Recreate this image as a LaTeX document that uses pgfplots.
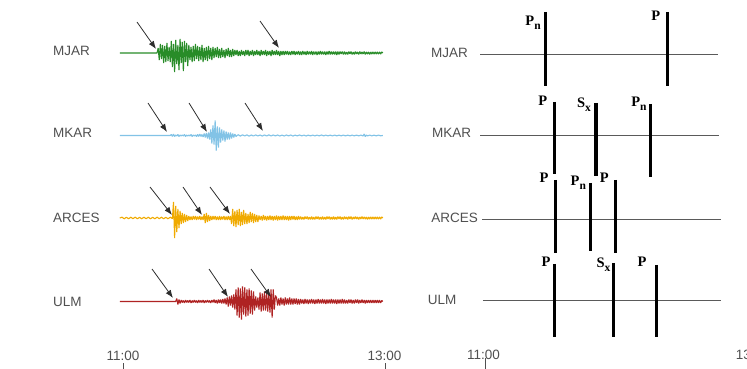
\documentclass[border=0pt]{standalone}
\usepackage{pgfplots}
\pgfplotsset{compat=1.18}
\usepackage{fontspec}
\setmainfont{Liberation Sans}
\newfontfamily\phasefont{Liberation Serif}
\usetikzlibrary{arrows.meta}
\definecolor{cMJAR}{RGB}{40,140,40}
\definecolor{cMKAR}{RGB}{130,195,230}
\definecolor{cARCES}{RGB}{240,170,0}
\definecolor{cULM}{RGB}{175,35,35}
\definecolor{labgray}{RGB}{80,80,80}
\definecolor{arrowc}{RGB}{45,45,45}
\definecolor{linegray}{RGB}{90,90,90}
\newcommand{\stfont}{\fontsize{13.5}{16}\selectfont}
\newcommand{\ph}[2]{{\phasefont\bfseries\fontsize{14.5}{16}\selectfont #1\raisebox{-0.3em}{\fontsize{11.5}{12}\selectfont #2}}}
\begin{document}
\begin{tikzpicture}[x=1pt,y=1pt]
\path[use as bounding box] (0,0) rectangle (747,369);
% ---------------- left panel: waveforms ----------------
\begin{axis}[at={(117.62pt,0pt)}, anchor=south west, scale only axis,
  width=269.58pt, height=369pt, xmin=-2, xmax=121, ymin=0, ymax=369,
  hide axis, clip=false]
% MJAR (baseline 316)
\addplot[cMJAR, line width=1.1pt, line join=bevel, y filter/.expression={y+316}] coordinates {
(-1,0) (16,0) (16.5,5) (17,-7) (17.5,9) (18,-6) (18.5,8) (19,-10) (19.5,7) (20,-9) (20.5,10) (21,-8) (21.5,6) (22,-9)
(22.5,12) (23,-14) (23.5,9) (24,-19) (24.5,13) (25,-11) (25.5,8) (26,-17) (26.5,14) (27,-10) (27.5,11) (28,-18) (28.5,12) (29,-9) (29.5,10) (30,-13)
(30.5,8) (31,-7) (31.5,6) (32,-9) (32.5,7) (33,-8) (33.5,9) (34,-6) (34.5,7) (35,-8) (35.5,6) (36,-7) (36.5,8) (37,-9) (37.5,5) (38,-7) (38.5,6) (39,-8) (39.5,7) (40,-6) (40.5,5) (41,-7) (41.5,6) (42,-5)
(42.5,5) (43,-4) (43.5,6) (44,-5) (44.5,4) (45,-5) (45.5,5) (46,-4) (46.5,3) (47,-5) (47.5,4) (48,-3) (48.5,5) (49,-4) (49.5,3) (50,-4) (50.5,4) (51,-3)
(51.5,3) (52,-2) (52.5,3) (53,-3) (53.5,2) (54,-3) (54.5,3) (55,-2) (55.5,2) (56,-3)
(56.5,3) (57,-2) (57.5,3) (58,-3) (58.5,2) (59,-2) (59.5,3) (60,-3) (60.5,2) (61,-2)
(61.5,3) (62,-2) (62.5,2) (63,-3) (63.5,3) (64,-2) (64.5,2) (65,-2) (65.5,3) (66,-3)
(66.5,2) (67,-2) (67.5,2) (68,-3) (68.5,3) (69,-2) (69.5,2) (70,-2) (70.5,3) (71,-2)
(71.5,2) (72,-3) (72.5,2) (73,-2)
(73.5,2) (74,-2) (74.5,2) (75,-1.5) (75.5,2) (76,-2) (76.5,1.5) (77,-2) (77.5,2) (78,-1.5)
(78.5,2) (79,-2) (79.5,1.5) (80,-1.5) (80.5,2) (81,-2) (81.5,1.5) (82,-2) (82.5,2) (83,-1.5)
(83.5,1.5) (84,-2) (84.5,2) (85,-1.5) (85.5,1.5) (86,-1.5) (86.5,2) (87,-2) (87.5,1.5) (88,-1.5)
(88.5,1.5) (89,-2) (89.5,1.5) (90,-1.5) (90.5,2) (91,-1.5) (91.5,1.5) (92,-1.5) (92.5,1.5) (93,-2)
(93.5,1.5) (94,-1.5) (94.5,2) (95,-1.5) (95.5,1.5) (96,-1.5) (96.5,1.5) (97,-1.5) (97.5,1.5) (98,-2)
(98.5,1.5) (99,-1.5) (99.5,1.5) (100,-1) (100.5,1.5) (101,-1.5) (101.5,1.5) (102,-1.5) (102.5,1) (103,-1.5)
(103.5,1.5) (104,-1) (104.5,1.5) (105,-1.5) (105.5,1) (106,-1.5) (106.5,1.5) (107,-1) (107.5,1) (108,-1.5)
(108.5,1.5) (109,-1) (109.5,1) (110,-1) (110.5,1.5) (111,-1.5) (111.5,1) (112,-1) (112.5,1) (113,-1.5)
(113.5,1) (114,-1) (114.5,1) (115,-1) (115.5,1) (116,-1) (116.5,1) (117,-1) (117.5,1) (118,-1) (118.5,1) (119,0)
};
% MKAR (baseline 233.5)
\addplot[cMKAR, line width=1.1pt, line join=bevel, y filter/.expression={y+233.5}] coordinates {
(-1,0) (22,0) (22.5,1) (23,-1) (23.5,1.5) (24,-1) (24.5,0.5) (25,-0.5) (25.5,1) (26,-1) (26.5,0.5) (27,-0.5)
(27.5,0.5) (28,-0.5) (28.5,1) (29,-1) (29.5,0.5) (30,-0.5) (30.5,0.5) (31,-0.5) (31.5,1) (32,-1)
(32.5,0.5) (33,-0.5) (33.5,0.5) (34,-1) (34.5,1) (35,-1) (35.5,1.5) (36,-1) (36.5,1) (37,-1.5)
(37.5,2) (38,-2) (38.5,2.5) (39,-3) (39.5,3) (40,-4)
(40.5,6) (41,-8) (41.5,10) (42,-9) (42.5,15) (43,-15) (43.5,9) (44,-12)
(44.5,8) (45,-7) (45.5,6) (46,-5) (46.5,5) (47,-6) (47.5,4) (48,-4) (48.5,3) (49,-4) (49.5,3) (50,-3) (50.5,2) (51,-2) (51.5,1.5)
(52,-1) (53,0.8) (54,-0.6) (55,0.7) (56,-0.5) (57,0.6) (58,-0.7) (59,0.5) (60,-0.5) (61,0.6)
(62,-0.5) (63,0.5) (64,-0.6) (65,0.5) (66,-0.5) (67,0.7) (68,-0.5) (69,0.5) (70,-0.4) (71,0.5)
(72,-0.5) (73,0.4) (74,-0.5) (75,0.5) (76,-0.4) (77,0.5) (78,-0.6) (79,0.4) (80,-0.4) (81,0.5)
(82,-0.4) (83,0.4) (84,-0.5) (85,0.4) (86,-0.4) (87,0.4) (88,-0.4) (89,0.4) (90,-0.4) (91,0.5)
(92,-0.4) (93,0.4) (94,-0.4) (95,0.4) (96,-0.4) (97,0.4) (98,-0.4) (99,0.4) (100,-0.4) (101,0.4)
(102,-0.4) (103,0.4) (104,-0.4) (105,0.4) (106,-0.4) (107,0.4) (108,-0.4) (109,0.4) (110,-0.5) (110.5,1.5) (111,-1.2) (111.5,0.5)
(112,-0.4) (113,0.4) (114,-0.4) (115,0.4) (116,-0.4) (117,0.4) (118,-0.3) (119,0)
};
% ARCES (baseline 151)
\addplot[cARCES, line width=1.1pt, line join=bevel, y filter/.expression={y+151}] coordinates {
(-1,0) (0,0.8) (1,-0.8) (2,0.7) (3,-0.8) (4,0.8) (5,-0.7) (6,0.8) (7,-0.8) (8,0.7) (9,-0.8)
(10,0.8) (11,-0.7) (12,0.8) (13,-0.8) (14,0.7) (15,-0.8) (16,0.8) (17,-0.7) (18,0.8) (19,-0.8)
(20,0.7) (21,-0.8) (22,0.8) (23,-0.7)
(23.5,16) (24,-20) (24.5,12) (25,-14) (25.5,9) (26,-10) (26.5,7) (27,-6) (27.5,5) (28,-5) (28.5,4) (29,-4) (29.5,3) (30,-3)
(30.5,2) (31,-2) (31.5,1.5) (32,-2) (32.5,2) (33,-1.5) (33.5,2) (34,-2) (34.5,1.5) (35,-1.5) (35.5,2) (36,-2) (36.5,1.5) (37,-2)
(37.5,4) (38,-5) (38.5,5) (39,-4) (39.5,3) (40,-3)
(40.5,2) (41,-2) (41.5,2) (42,-1.5) (42.5,2) (43,-2) (43.5,1.5) (44,-2) (44.5,2) (45,-2)
(45.5,1.5) (46,-1.5) (46.5,2) (47,-2) (47.5,1.5) (48,-2) (48.5,2) (49,-2) (49.5,2)
(50,-6) (50.5,9) (51,-8) (51.5,7) (52,-9) (52.5,8) (53,-7) (53.5,9) (54,-8) (54.5,6) (55,-7) (55.5,8) (56,-6)
(56.5,5) (57,-6) (57.5,4) (58,-5) (58.5,6) (59,-4) (59.5,5) (60,-5) (60.5,4) (61,-4) (61.5,3) (62,-4)
(62.5,2.5) (63,-2) (63.5,2) (64,-2.5) (64.5,3) (65,-2) (65.5,2) (66,-2.5) (66.5,2) (67,-2)
(67.5,2.5) (68,-2) (68.5,2) (69,-2.5) (69.5,2) (70,-2) (70.5,2.5) (71,-2.5) (71.5,2) (72,-2)
(72.5,2) (73,-2) (73.5,2.5) (74,-2) (74.5,2) (75,-2) (75.5,2) (76,-2.5) (76.5,2) (77,-2)
(77.5,2) (78,-1.5) (78.5,2) (79,-2) (79.5,1.5) (80,-2) (80.5,2) (81,-1.5)
(81.5,1.5) (82,-1.5) (82.5,1) (83,-1.5) (83.5,1.5) (84,-1) (84.5,1.5) (85,-1.5) (85.5,1) (86,-1.5)
(86.5,1.5) (87,-1.5) (87.5,1) (88,-1.5) (88.5,1.5) (89,-1) (89.5,1.5) (90,-1.5) (90.5,1) (91,-1.5)
(91.5,1.5) (92,-1.5) (92.5,1) (93,-1.5) (93.5,1.5) (94,-1) (94.5,1.5) (95,-1.5) (95.5,1) (96,-1.5)
(96.5,1.5) (97,-1.5) (97.5,1) (98,-1.5) (98.5,1.5) (99,-1) (99.5,1.5) (100,-1.5) (100.5,1) (101,-1.5)
(101.5,1.5) (102,-1) (102.5,1) (103,-1.5) (103.5,1.5) (104,-1) (104.5,1.5) (105,-1.5) (105.5,1) (106,-1)
(106.5,1.5) (107,-1) (107.5,1) (108,-1.5) (108.5,1) (109,-1) (109.5,1.5) (110,-1) (110.5,1) (111,-1)
(111.5,1) (112,-1.5) (112.5,1) (113,-1) (113.5,1) (114,-1) (114.5,1) (115,-1) (115.5,1) (116,-1)
(116.5,1) (117,-1) (117.5,1) (118,-1) (118.5,1) (119,0)
};
% ULM (baseline 67.5)
\addplot[cULM, line width=1.1pt, line join=bevel, y filter/.expression={y+67.5}] coordinates {
(-1,0) (24.5,0) (25,3) (25.5,-3) (26,2) (26.5,-2)
(27,1.5) (27.5,-1) (28,1) (28.5,-1.5) (29,1.5) (29.5,-1) (30,1) (30.5,-1) (31,1.5) (31.5,-1.5)
(32,1) (32.5,-1) (33,1.5) (33.5,-1) (34,1) (34.5,-1.5) (35,1.5) (35.5,-1) (36,1) (36.5,-1)
(37,1.5) (37.5,-1.5) (38,1) (38.5,-1) (39,1.5) (39.5,-1) (40,1) (40.5,-1.5) (41,1.5) (41.5,-1)
(42,2) (42.5,-1.5) (43,1.5) (43.5,-2) (44,2) (44.5,-1.5) (45,2) (45.5,-2) (46,2.5) (46.5,-2)
(47,3) (47.5,-3) (48,4) (48.5,-5) (49,5) (49.5,-4) (50,6) (50.5,-6) (51,7) (51.5,-8)
(52,12) (52.5,-14) (53,14) (53.5,-16) (54,13) (54.5,-18) (55,15) (55.5,-13) (56,14) (56.5,-15)
(57,12) (57.5,-14) (58,13) (58.5,-12) (59,11) (59.5,-13) (60,10) (60.5,-9)
(61,5) (61.5,-6) (62,4)
(62.5,-8) (63,9) (63.5,-10) (64,8) (64.5,-9) (65,10) (65.5,-9) (66,8) (66.5,-10) (67,9) (67.5,-11) (68,12)
(68.5,-16) (69,12) (69.5,-8) (70,6)
(70.5,4) (71,-4) (71.5,3) (72,-4) (72.5,4) (73,-3) (73.5,3) (74,-4) (74.5,4) (75,-3)
(75.5,3) (76,-3) (76.5,4) (77,-3) (77.5,3) (78,-3) (78.5,3) (79,-2.5) (79.5,3) (80,-3) (80.5,2.5) (81,-3)
(81.5,2.5) (82,-2) (82.5,2) (83,-2.5) (83.5,2.5) (84,-2) (84.5,2) (85,-2.5) (85.5,2) (86,-2)
(86.5,2.5) (87,-2) (87.5,2) (88,-2.5) (88.5,2) (89,-2) (89.5,2.5) (90,-2) (90.5,2) (91,-2)
(91.5,2.5) (92,-2) (92.5,2) (93,-2.5) (93.5,2) (94,-2) (94.5,2) (95,-2) (95.5,2.5) (96,-2)
(96.5,2) (97,-2) (97.5,2) (98,-2.5) (98.5,2) (99,-2) (99.5,2) (100,-2) (100.5,2.5) (101,-2)
(101.5,2) (102,-2) (102.5,1.5) (103,-2) (103.5,2) (104,-1.5) (104.5,2) (105,-2) (105.5,1.5) (106,-2)
(106.5,2) (107,-1.5) (107.5,2) (108,-2) (108.5,1.5) (109,-1.5) (109.5,2) (110,-1.5) (110.5,1.5) (111,-2)
(111.5,1.5) (112,-1.5) (112.5,1.5) (113,-1.5) (113.5,1.5) (114,-1.5) (114.5,1.5) (115,-1.5) (115.5,1.5) (116,-1.5)
(116.5,1.5) (117,-1.5) (117.5,1.5) (118,-1.5) (118.5,1) (119,0)
};
% arrows
\addplot[arrowc, line width=0.8pt, -{Latex[length=8pt,width=6pt]}] coordinates {(6.84,347) (15.51,320)};
\addplot[arrowc, line width=0.8pt, -{Latex[length=8pt,width=6pt]}] coordinates {(62.97,348) (71.63,321)};
\addplot[arrowc, line width=0.8pt, -{Latex[length=8pt,width=6pt]}] coordinates {(11.86,266) (20.53,237)};
\addplot[arrowc, line width=0.8pt, -{Latex[length=8pt,width=6pt]}] coordinates {(30.57,266) (38.78,237)};
\addplot[arrowc, line width=0.8pt, -{Latex[length=8pt,width=6pt]}] coordinates {(56.12,266) (64.33,238)};
\addplot[arrowc, line width=0.8pt, -{Latex[length=8pt,width=6pt]}] coordinates {(12.78,182) (22.81,154)};
\addplot[arrowc, line width=0.8pt, -{Latex[length=8pt,width=6pt]}] coordinates {(27.83,182) (36.50,154)};
\addplot[arrowc, line width=0.8pt, -{Latex[length=8pt,width=6pt]}] coordinates {(40.15,182) (49.28,155)};
\addplot[arrowc, line width=0.8pt, -{Latex[length=8pt,width=6pt]}] coordinates {(13.69,100) (23.27,71)};
\addplot[arrowc, line width=0.8pt, -{Latex[length=8pt,width=6pt]}] coordinates {(39.70,100) (48.36,72)};
\addplot[arrowc, line width=0.8pt, -{Latex[length=8pt,width=6pt]}] coordinates {(58.86,100) (67.98,72)};
% station labels
\node[anchor=west, inner sep=0, font=\stfont, text=labgray] at (axis cs:-31.5,318.5) {MJAR};
\node[anchor=west, inner sep=0, font=\stfont, text=labgray] at (axis cs:-31.5,236) {MKAR};
\node[anchor=west, inner sep=0, font=\stfont, text=labgray] at (axis cs:-31.5,151.5) {ARCES};
\node[anchor=west, inner sep=0, font=\stfont, text=labgray] at (axis cs:-31.5,67) {ULM};
% time ticks
\node[inner sep=0, font=\stfont, text=labgray] at (axis cs:0.5,13.5) {11:00};
\node[inner sep=0, font=\stfont, text=labgray] at (axis cs:119.8,13.5) {13:00};
\draw[labgray, line width=0.7pt] (axis cs:0.5,0) -- (axis cs:0.5,6);
\draw[labgray, line width=0.7pt] (axis cs:120,0) -- (axis cs:120,6);
\end{axis}
% ---------------- right panel: phase picks ----------------
\begin{axis}[at={(477.81pt,0pt)}, anchor=south west, scale only axis,
  width=269.71pt, height=369pt, xmin=-3, xmax=118, ymin=0, ymax=369,
  hide axis, clip=false]
% station lines
\addplot[linegray, line width=0.9pt] coordinates {(-2.0,315) (104.7,315)};
\addplot[linegray, line width=0.9pt] coordinates {(-2.0,234) (105.2,234)};
\addplot[linegray, line width=0.9pt] coordinates {(-1.1,150) (106.1,150)};
\addplot[linegray, line width=0.9pt] coordinates {(-0.7,69) (106.1,69)};
% phase bars
\addplot[black, line width=3.1pt] coordinates {(27.3,357) (27.3,283)};
\addplot[black, line width=3.1pt] coordinates {(82.0,357) (82.0,283)};
\addplot[black, line width=3.1pt] coordinates {(31.6,267) (31.6,195)};
\addplot[black, line width=3.1pt] coordinates {(50.0,266) (50.0,193)};
\addplot[black, line width=3.1pt] coordinates {(74.3,265) (74.3,192)};
\addplot[black, line width=3.1pt] coordinates {(31.9,189) (31.9,116)};
\addplot[black, line width=3.1pt] coordinates {(47.5,186) (47.5,118)};
\addplot[black, line width=3.1pt] coordinates {(58.7,189) (58.7,116)};
\addplot[black, line width=3.1pt] coordinates {(31.6,105) (31.6,32)};
\addplot[black, line width=3.1pt] coordinates {(57.8,106) (57.8,32)};
\addplot[black, line width=3.1pt] coordinates {(77.3,104) (77.3,32)};
% phase labels
\node[inner sep=0] at (axis cs:21.8,346) {\ph{P}{n}};
\node[inner sep=0] at (axis cs:76.9,351) {\ph{P}{}};
\node[inner sep=0] at (axis cs:26.2,266) {\ph{P}{}};
\node[inner sep=0] at (axis cs:44.6,264) {\ph{S}{x}};
\node[inner sep=0] at (axis cs:69.3,265.5) {\ph{P}{n}};
\node[inner sep=0] at (axis cs:26.7,189) {\ph{P}{}};
\node[inner sep=0] at (axis cs:42.1,186.5) {\ph{P}{n}};
\node[inner sep=0] at (axis cs:53.8,189) {\ph{P}{}};
\node[inner sep=0] at (axis cs:27.6,105) {\ph{P}{}};
\node[inner sep=0] at (axis cs:53.4,104) {\ph{S}{x}};
\node[inner sep=0] at (axis cs:70.7,105) {\ph{P}{}};
% station labels
\node[anchor=west, inner sep=0, font=\stfont, text=labgray] at (axis cs:-24.0,316) {MJAR};
\node[anchor=west, inner sep=0, font=\stfont, text=labgray] at (axis cs:-23.6,236) {MKAR};
\node[anchor=west, inner sep=0, font=\stfont, text=labgray] at (axis cs:-23.9,151) {ARCES};
\node[anchor=west, inner sep=0, font=\stfont, text=labgray] at (axis cs:-25.5,69) {ULM};
% time ticks
\node[inner sep=0, font=\stfont, text=labgray] at (axis cs:-0.4,14) {11:00};
\node[inner sep=0, font=\stfont, text=labgray] at (axis cs:120.4,14) {13:00};
\draw[labgray, line width=0.7pt] (axis cs:0.6,0) -- (axis cs:0.6,11);
\end{axis}
\end{tikzpicture}
\end{document}
